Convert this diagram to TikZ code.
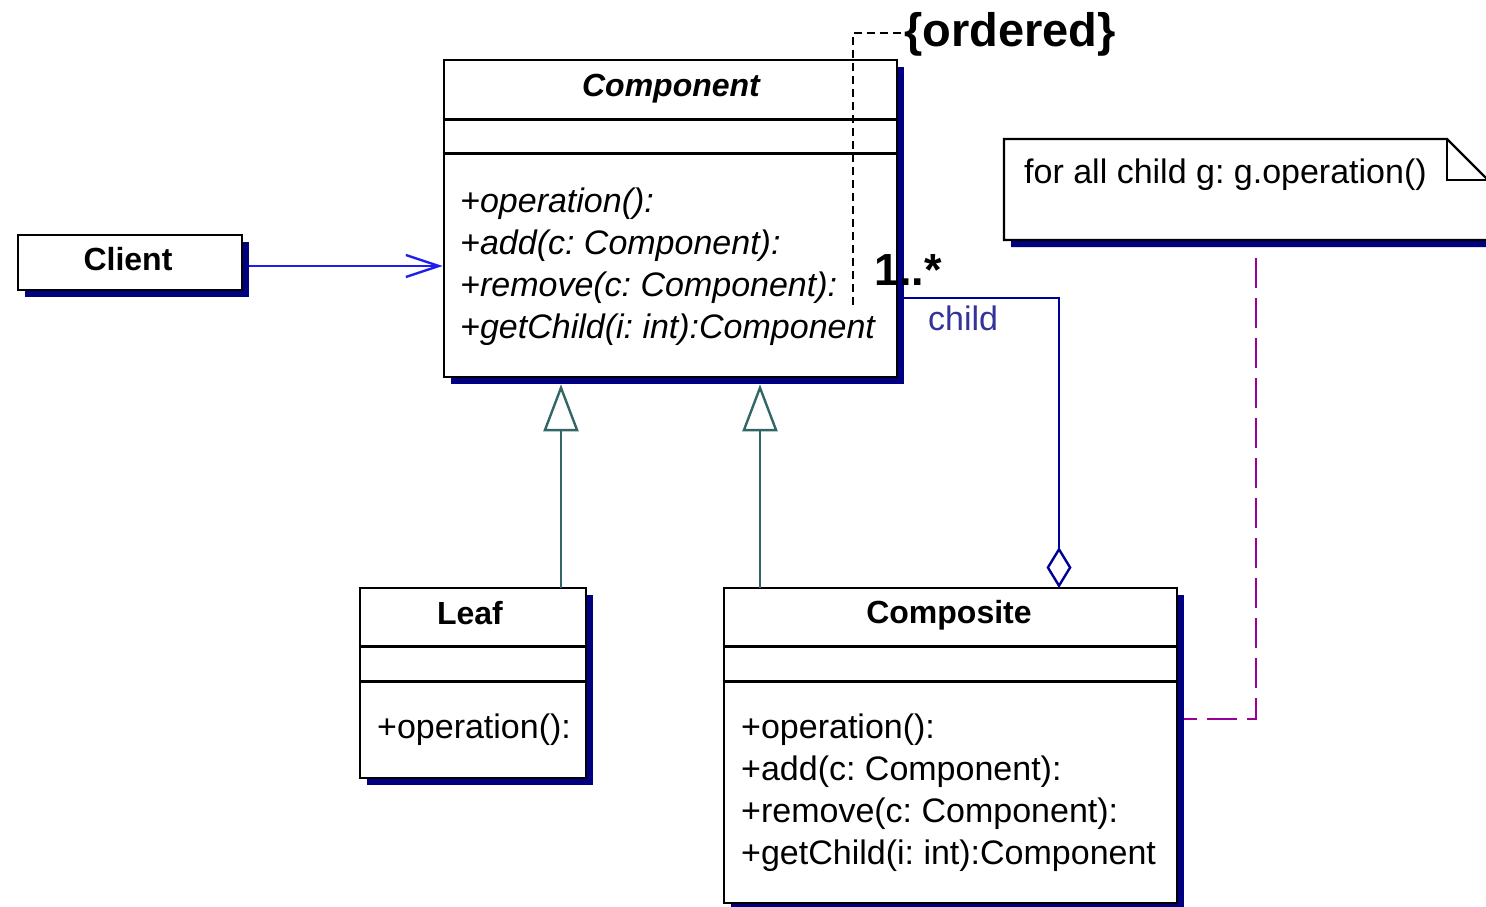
\documentclass[tikz,border=0pt]{standalone}
\usepackage{fontspec}
\setmainfont{Liberation Sans}
\usetikzlibrary{arrows.meta,shadows}
\definecolor{N1}{RGB}{0,0,128}
\definecolor{B1}{RGB}{30,30,240}
\definecolor{B2}{RGB}{0,0,153}
\definecolor{B3}{RGB}{51,51,153}
\definecolor{T1}{RGB}{51,102,102}
\definecolor{P1}{RGB}{153,0,153}
\frenchspacing

\begin{document}
\begin{tikzpicture}[x=1pt,y=-1pt,
    box/.style={draw, line width=2.6pt, fill=white, rectangle, inner sep=0pt,
      drop shadow={shadow xshift=7pt, shadow yshift=-7pt, fill=N1, opacity=1}},
    sep/.style={line width=2.6pt},
    ttl/.style={font=\fontsize{32}{38}\selectfont\bfseries, anchor=base, inner sep=0pt},
    ops/.style={font=\fontsize{34}{42}\selectfont, anchor=base west, inner sep=0pt},
    assoc/.style={B1, line width=2.4pt, -{Straight Barb[length=33pt, width=22pt]}},
    gen/.style={T1, line width=2.4pt, -{Triangle[open, length=47pt, width=35pt]}},
    aggr/.style={B2, line width=2.4pt, -{Diamond[open, length=41pt, width=25pt]}},
    notelink/.style={P1, line width=2.8pt, dash pattern=on 30pt off 10pt},
    ordline/.style={black, line width=2pt, dash pattern=on 8pt off 5pt}]
          \useasboundingbox (0,0) rectangle (1486,906);
          % classes
          \node[box, minimum width=224pt, minimum height=55pt] (client) at (130,262.5) {};
          \node[ttl] (clientname) at (128,270) {Client};
          \node[box, minimum width=453pt, minimum height=317pt] (comp) at (670.5,218.5) {};
          \draw[sep] ([yshift=-61pt]comp.north west) -- ([yshift=-61pt]comp.north east);
          \draw[sep] ([yshift=-95pt]comp.north west) -- ([yshift=-95pt]comp.north east);
          \node[ttl, font=\fontsize{32}{38}\selectfont\bfseries\itshape] (compname) at (671,96) {Component};
          \foreach \t [count=\i] in {+operation():, +add(c: Component):, +remove(c: Component):, +getChild(i: int):Component}
            \node[ops, font=\fontsize{34}{42}\selectfont\itshape] (compop\i) at (460,170+42*\i) {\t};
          \node[box, minimum width=226pt, minimum height=190pt] (leaf) at (473,683) {};
          \draw[sep] ([yshift=-60pt]leaf.north west) -- ([yshift=-60pt]leaf.north east);
          \draw[sep] ([yshift=-95pt]leaf.north west) -- ([yshift=-95pt]leaf.north east);
          \node[ttl] (leafname) at (470,624) {Leaf};
          \node[ops] (leafop1) at (377,738) {+operation():};
          \node[box, minimum width=453pt, minimum height=315pt] (composite) at (950.5,745.5) {};
          \draw[sep] ([yshift=-60pt]composite.north west) -- ([yshift=-60pt]composite.north east);
          \draw[sep] ([yshift=-95pt]composite.north west) -- ([yshift=-95pt]composite.north east);
          \node[ttl] (compositename) at (949,623) {Composite};
          \foreach \t [count=\i] in {+operation():, +add(c: Component):, +remove(c: Component):, +getChild(i: int):Component}
            \node[ops] (compositeop\i) at (741,696+42*\i) {\t};
          % note
          \fill[N1] (1011,146) -- (1454,146) -- (1495,187) -- (1495,247) -- (1011,247) -- cycle;
          \draw[line width=2.4pt, fill=white] (1004,139) -- (1447,139) -- (1488,180) -- (1488,240) -- (1004,240) -- cycle;
          \draw[line width=2.4pt] (1447,139) -- (1447,180) -- (1488,180);
          \node[ops] (notetext) at (1024,183) {for all child g: g.operation()};
          % connectors
          \coordinate (leafup) at (561,588);
          \coordinate (compositeup) at (760,588);
          \coordinate (aggfoot) at (903,298);
          \coordinate (childup) at (1059,588);
          \coordinate (notefoot) at (1256,258);
          \coordinate (compositeside) at (1184,719);
          \coordinate (ordfoot) at (853,305);
          \draw[assoc] ([xshift=6pt,yshift=-3.5pt]client.east) -- ([yshift=-3.5pt]client.east -| comp.west);
          \draw[gen] (leafup) -- ([yshift=-6pt]leafup |- comp.south);
          \draw[gen] (compositeup) -- ([yshift=-6pt]compositeup |- comp.south);
          \draw[aggr] (aggfoot) -| (childup);
          \draw[notelink] (notefoot) |- (compositeside);
          \node[anchor=base west, inner sep=0pt, font=\fontsize{47}{52}\selectfont\bfseries] (ordered) at (904,46) {\{ordered\}};
          \draw[ordline] (ordfoot) |- ([yshift=1pt]ordered.west);
          \node[anchor=base west, inner sep=0pt, font=\fontsize{45}{50}\selectfont\bfseries] (mult) at (874,285) {1..*};
          \node[anchor=base west, inner sep=0pt, font=\fontsize{34}{42}\selectfont, B3] (role) at (928,330) {child};
        \end{tikzpicture}
\end{document}
